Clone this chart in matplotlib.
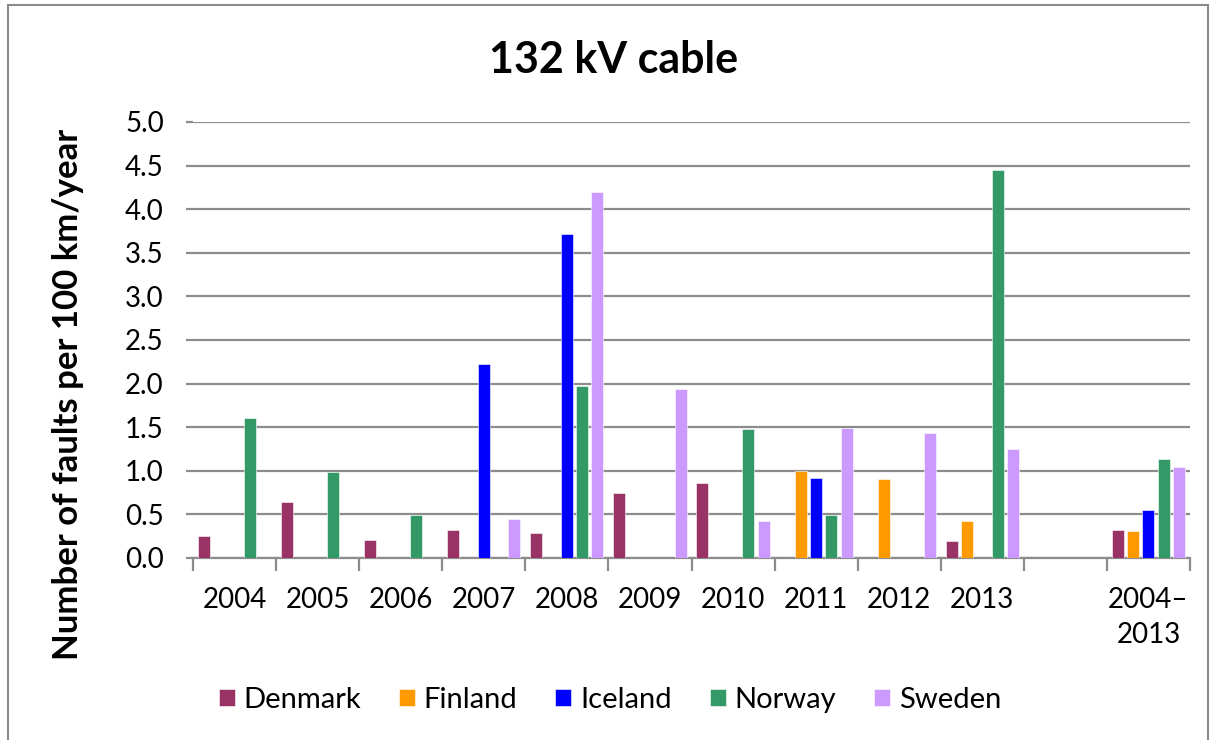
import numpy as np
import matplotlib
matplotlib.use('Agg')
import matplotlib.pyplot as plt
from matplotlib.patches import Rectangle

plt.rcParams['font.family'] = ['Lato', 'DejaVu Sans']

nan = np.nan
categories = ['2004', '2005', '2006', '2007', '2008', '2009', '2010',
              '2011', '2012', '2013', '', '2004–\n2013']
countries = ['Denmark', 'Finland', 'Iceland', 'Norway', 'Sweden']
denmark = [0.25, 0.64, 0.21, 0.32, 0.29, 0.74, 0.86, nan, nan, 0.19, nan, 0.32]
finland = [nan, nan, nan, nan, nan, nan, nan, 1.00, 0.91, 0.42, nan, 0.31]
iceland = [nan, nan, nan, 2.22, 3.72, nan, nan, 0.92, nan, nan, nan, 0.55]
norway = [1.60, 0.99, 0.49, nan, 1.97, nan, 1.48, 0.49, nan, 4.45, nan, 1.14]
sweden = [nan, nan, nan, 0.45, 4.20, 1.94, 0.42, 1.49, 1.43, 1.25, nan, 1.04]
series = [denmark, finland, iceland, norway, sweden]
colors = ['#993366', '#FF9900', '#0000FF', '#339966', '#CC99FF']

fig = plt.figure(figsize=(12.15, 7.4), dpi=100)
ax = fig.add_axes([193 / 1215, 1 - 558 / 740, (1190 - 193) / 1215, (558 - 122) / 740])

x = np.arange(len(categories))
slot = 0.184
width = 0.144
for i, (name, vals, c) in enumerate(zip(countries, series, colors)):
    ax.bar(x + (i - 2) * slot, vals, width, color=c, label=name,
           edgecolor='white', linewidth=0.4, zorder=3)

ax.set_xlim(-0.5, len(categories) - 0.5)
ax.set_ylim(0, 5)
ax.set_yticks(np.arange(0, 5.01, 0.5))
ax.set_yticklabels([f'{v:.1f}' for v in np.arange(0, 5.01, 0.5)], fontsize=20)
ax.yaxis.grid(True, color='#8c8c8c', linewidth=1.6, zorder=0)
ax.set_axisbelow(True)

ax.set_xticks(x)
ax.set_xticklabels(categories, fontsize=20, linespacing=1.4, va='top')
ax.set_xticks(np.arange(-0.5, len(categories)), minor=True)
ax.tick_params(axis='x', which='major', length=0, pad=21)
ax.tick_params(axis='x', which='minor', length=9, width=1.6, color='#8c8c8c')
ax.tick_params(axis='y', length=5, width=1.6, color='#8c8c8c', pad=16)

for s in ['top', 'right', 'left']:
    ax.spines[s].set_visible(False)
ax.spines['bottom'].set_color('#8c8c8c')
ax.spines['bottom'].set_linewidth(1.6)

# y label sits lower than the axes centre in the original
ax.set_ylabel('Number of faults per 100 km/year', fontsize=25, fontweight='bold',
              va='center', ha='center')
ax.yaxis.set_label_coords(-0.125, 0.374)
fig.text(0.505, 1 - 60 / 740, '132 kV cable', fontsize=31, fontweight='bold',
         ha='center', va='center')

fig.legend(loc='center', bbox_to_anchor=(0.502, 1 - 700 / 740), ncol=5, frameon=False,
           fontsize=21, handlelength=0.55, handleheight=0.55, handletextpad=0.3,
           columnspacing=1.3)

fig.patches.append(Rectangle((8 / 1215, -0.01), 1200 / 1215, 1 - 5 / 740 + 0.01,
                             transform=fig.transFigure, fill=False,
                             edgecolor='#8c8c8c', linewidth=1.5))

fig.savefig('out.png', dpi=100)
